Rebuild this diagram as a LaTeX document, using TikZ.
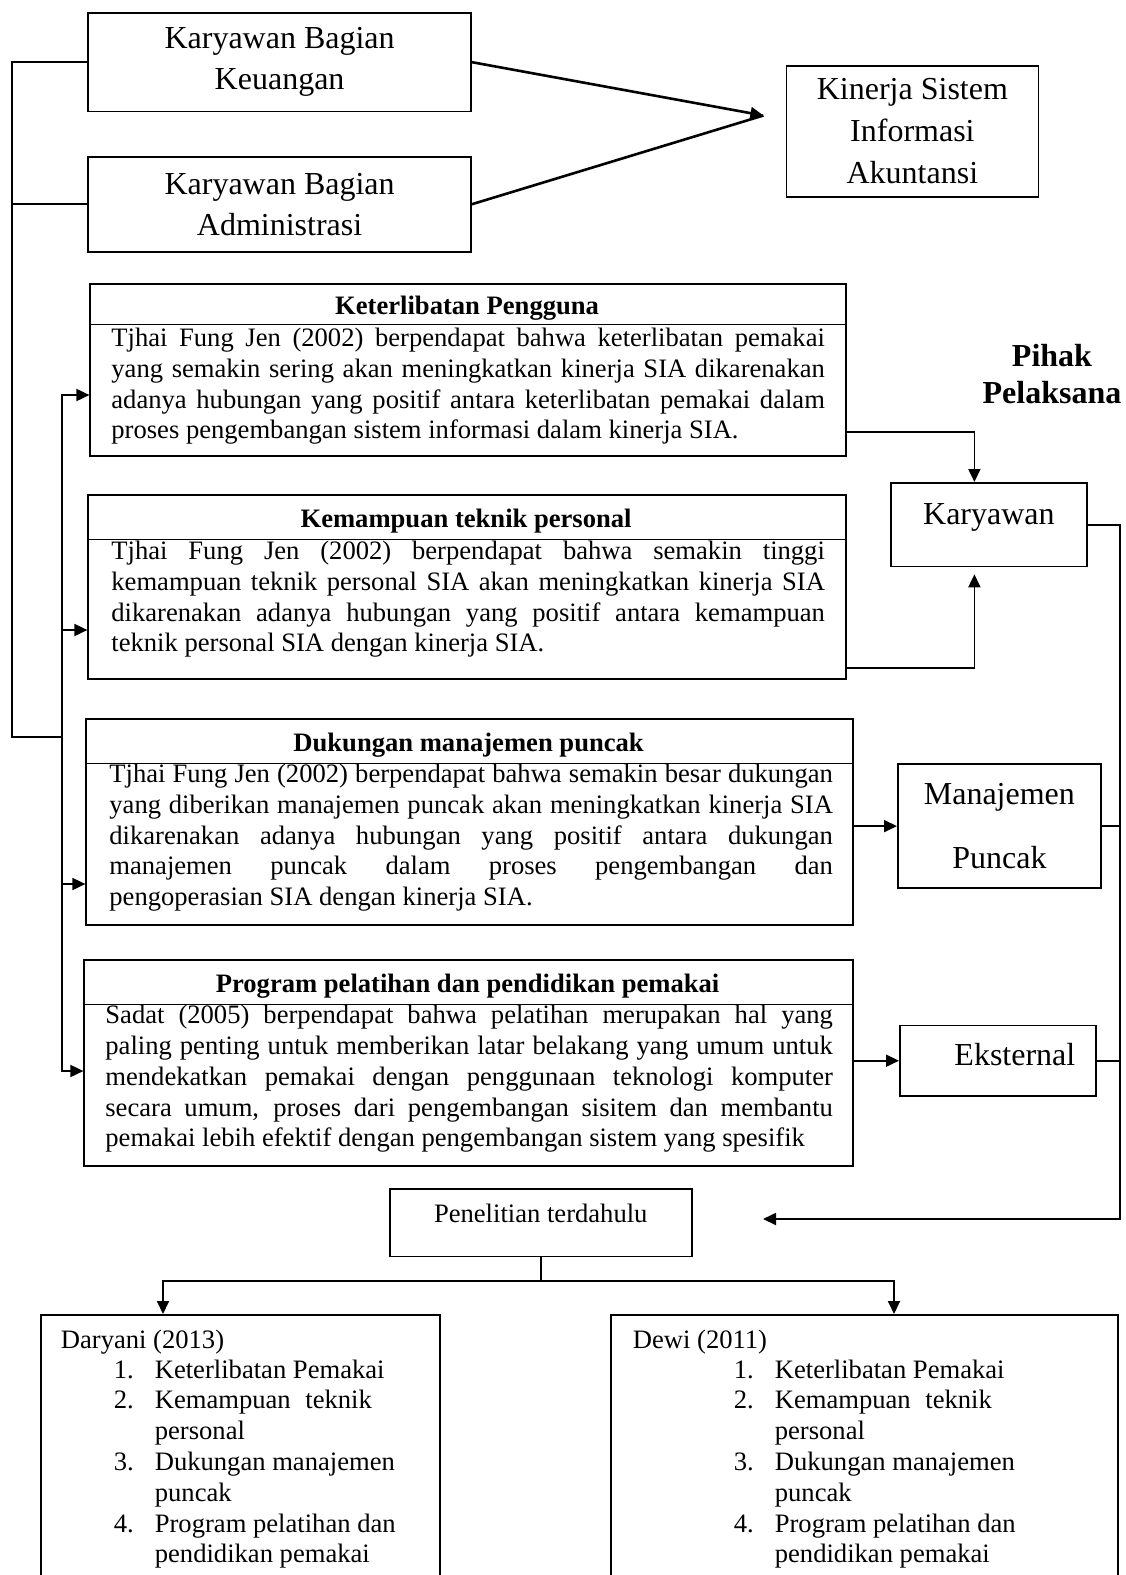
\documentclass[tikz,border=0pt]{standalone}
\usepackage{fontspec}
\setmainfont{Liberation Serif}
\usetikzlibrary{arrows.meta, positioning}

\begin{document}
\begin{tikzpicture}[x=1pt, y=1pt, >={Triangle[length=13pt, width=12pt]},
			line width=1.8pt,
			kotak/.style={draw, inner sep=0pt, anchor=north west},
			besar/.style={font=\fontsize{32}{41}\selectfont, align=center},
			judul/.style={font=\fontsize{26.6}{30.8}\selectfont\bfseries, anchor=base, inner sep=0pt},
			isi/.style={font=\fontsize{26.6}{30.8}\selectfont, anchor=base west, inner sep=0pt},
			rata/.style={isi, align=justify}]
			
			\useasboundingbox (0,0) rectangle (1126,-1575);
			
			% Kotak bagian atas
			\node[kotak, besar, minimum width=382.6, minimum height=98.5] (kbk) at (87.4,-12) {Karyawan Bagian\\Keuangan};
			\node[kotak, besar, minimum width=382.6, minimum height=95.3] (kba) at (87.4,-155.7) {Karyawan Bagian\\Administrasi};
			\node[kotak, font=\fontsize{32}{42}\selectfont, align=center, minimum width=252, minimum height=130.6] (ksia) at (785.5,-65.3) {Kinerja Sistem\\Informasi\\Akuntansi};
			\coordinate (ujung1) at (763.4,-115.5);
			\draw[->, line width=2.6pt] (kbk.east) -- (ujung1);
			\draw[line width=2.6pt] (kba.east) -- (ujung1);
			
			% --- Faktor-faktor ---
			\node[kotak, minimum width=755.4, minimum height=171.7] (kp) at (89.4,-283.3) {};
			\node[judul] (kpj) at (467.1,-314.4) {Keterlibatan Pengguna};
			\draw (89.4,-324.5) -- (847,-324.5);
			\node[rata, text width=713.5pt] (kpi) at (110.5,-346.5) {Tjhai Fung Jen (2002) berpendapat bahwa keterlibatan pemakai\linebreak
				yang semakin sering akan meningkatkan kinerja SIA dikarenakan\linebreak
				adanya hubungan yang positif antara keterlibatan pemakai dalam\linebreak
				proses pengembangan sistem informasi dalam kinerja SIA.};
			
			\node[kotak, minimum width=757.4, minimum height=183.8] (kt) at (87.4,-494.2) {};
			\node[judul] (ktj) at (466.1,-527.4) {Kemampuan teknik personal};
			\draw (87.4,-539.4) -- (847,-539.4);
			\node[rata, text width=713.5pt] (kti) at (110.5,-559.5) {Tjhai Fung Jen (2002) berpendapat bahwa semakin tinggi\linebreak
				kemampuan teknik personal SIA akan meningkatkan kinerja SIA\linebreak
				dikarenakan adanya hubungan yang positif antara kemampuan\linebreak
				teknik personal SIA dengan kinerja SIA.};
			
			\node[kotak, minimum width=766.4, minimum height=205.9] (dm) at (85.4,-718.2) {};
			\node[judul] (dmj) at (468.6,-751.4) {Dukungan manajemen puncak};
			\draw (85.4,-763.4) -- (851.8,-763.4);
			\node[rata, text width=723.5pt] (dmi) at (108.5,-782.5) {Tjhai Fung Jen (2002) berpendapat bahwa semakin besar dukungan\linebreak
				yang diberikan manajemen puncak akan meningkatkan kinerja SIA\linebreak
				dikarenakan adanya hubungan yang positif antara dukungan\linebreak
				manajemen puncak dalam proses pengembangan dan\linebreak
				pengoperasian SIA dengan kinerja SIA.};
			
			\node[kotak, minimum width=768.4, minimum height=205.9] (pp) at (83.4,-959.3) {};
			\node[judul] (ppj) at (467.6,-992.4) {Program pelatihan dan pendidikan pemakai};
			\draw (83.4,-1004.5) -- (851.8,-1004.5);
			\node[rata, text width=727.5pt] (ppi) at (104.5,-1023.6) {Sadat (2005) berpendapat bahwa pelatihan merupakan hal yang\linebreak
				paling penting untuk memberikan latar belakang yang umum untuk\linebreak
				mendekatkan pemakai dengan penggunaan teknologi komputer\linebreak
				secara umum, proses dari pengembangan sisitem dan membantu\linebreak
				pemakai lebih efektif dengan pengembangan sistem yang spesifik};
			
			% Garis kiri
			\coordinate (kiri) at (12,-737);
			\coordinate (tengah) at (62,-737);
			\coordinate (a1) at (62,-395);
			\coordinate (a2) at (62,-630);
			\coordinate (a3) at (62,-884);
			\coordinate (a4) at (62,-1071);
			\draw (kbk.west) -| (kiri) -- (tengah);
			\draw (kba.west) -- (kba.west -| kiri);
			\draw[<->] (a1 -| kp.west) -- (a1) -- (a4) -- (a4 -| pp.west);
			\draw[->] (a2) -- (a2 -| kt.west);
			\draw[->] (a3) -- (a3 -| dm.west);
			
			% --- Pihak pelaksana ---
			\node[font=\fontsize{32}{37}\selectfont\bfseries, align=center] (pihak) at (1052,-374) {Pihak\\Pelaksana};
			\node[kotak, font=\fontsize{32}{41}\selectfont, text height=24pt, text depth=24pt, minimum width=196, minimum height=83.5] (kw) at (890,-482) {Karyawan};
			\node[kotak, font=\fontsize{32}{63.3}\selectfont, align=center, minimum width=203, minimum height=123.6] (mp) at (897,-763.4) {Manajemen\\Puncak};
			\node[kotak, font=\fontsize{32}{41}\selectfont, text height=22pt, text depth=12pt, minimum width=196, minimum height=70.4] (ek) at (899,-1024.6) {\hspace*{34pt}Eksternal};
			
			\coordinate (kw1) at (974.4,-432);
			\coordinate (kw2) at (974.4,-668);
			\draw[->] (kp.east |- kw1) -| (kw.north -| kw1);
			\draw[->, shorten >=7pt] (kt.east |- kw2) -| (kw.south -| kw2);
			\draw[->] (dm.east |- mp.west) -- (mp.west);
			\draw[->] (pp.east |- ek.west) -- (ek.west);
			
			% Garis kanan
			\coordinate (kanan) at (1120,-1219);
			\coordinate (ujung2) at (763,-1219);
			\draw[->] (kw.east) -| (kanan) -- (ujung2);
			\draw (mp.east) -- (mp.east -| kanan);
			\draw (ek.east) -- (ek.east -| kanan);
			
			% --- Penelitian terdahulu ---
			\node[kotak, font=\fontsize{26.6}{30.8}\selectfont, text height=20pt, text depth=20pt, minimum width=302.3, minimum height=67.6] (pen) at (388.7,-1188) {Penelitian terdahulu};
			\node[kotak, minimum width=399, minimum height=300] (dy) at (40,-1314) {};
			\node[kotak, minimum width=507, minimum height=300] (dw) at (610,-1314) {};
			
			\coordinate (c1) at (163,-1281);
			\coordinate (c2) at (894,-1281);
			\draw (pen.south) -- (pen.south |- c1);
			\draw[<->] (c1 |- dy.north) -- (c1) -- (c2) -- (c2 |- dw.north);
			
			\node[isi] (dyj) at (60,-1348) {Daryani (2013)};
			\node[isi] (dyd) at (113,-1378) {\begin{tabular}[t]{@{}r@{\hspace{21pt}}l@{}}
					1. & Keterlibatan Pemakai\\
					2. & Kemampuan\hspace{8pt} teknik\\
					& personal\\
					3. & Dukungan manajemen\\
					& puncak\\
					4. & Program pelatihan dan\\
					& pendidikan pemakai
				\end{tabular}};
			
			\node[isi] (dwj) at (632,-1348) {Dewi (2011)};
			\node[isi] (dwd) at (733,-1378) {\begin{tabular}[t]{@{}r@{\hspace{21pt}}l@{}}
					1. & Keterlibatan Pemakai\\
					2. & Kemampuan\hspace{8pt} teknik\\
					& personal\\
					3. & Dukungan manajemen\\
					& puncak\\
					4. & Program pelatihan dan\\
					& pendidikan pemakai
				\end{tabular}};
			
		\end{tikzpicture}
\end{document}
